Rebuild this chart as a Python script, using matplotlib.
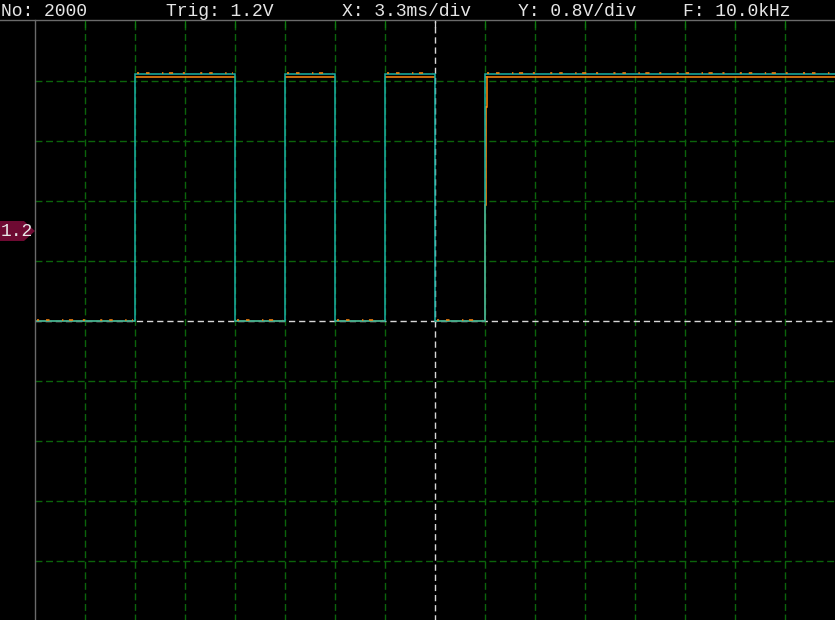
"""Scope capture: teal + orange square-wave traces on a dark grid, saved to out.png."""
import matplotlib
matplotlib.use("Agg")
import matplotlib.pyplot as plt
from matplotlib.patches import Polygon

plt.rcParams["lines.scale_dashes"] = False

# --- data ---------------------------------------------------------------
HEADER = ["No: 2000", "Trig: 1.2V", "X: 3.3ms/div", "Y: 0.8V/div", "F: 10.0kHz"]
HEADER_X = [1, 166, 342, 518, 683]          # pixel positions of header text
TRIG_LABEL = "1.2"
TRIG_V = 1.2
MS_PER_DIV = 3.3
V_PER_DIV = 0.8
N_XDIV = 16
N_YDIV = 10

# edge times in ms (relative to trigger), signal starts low
edge_times = [-19.8, -13.2, -9.9, -6.6, -3.3, 0.0, 3.3]
HIGH_V = 3.3
LOW_V = 0.0
ORANGE_HIGH_V = 3.26
# orange trace lags on the last rising edge
orange_lag_t = [3.30, 3.30, 3.36, 3.36, 3.42, 3.42]
orange_lag_v = [0.0, 1.55, 1.55, 2.85, 2.85, 3.26]

BG = "#000000"
GRID = "#0b640b"
CENTER = "#d8d8d8"
TEAL = "#19b2a5"
ORANGE = "#ff8a10"
TEXT = "#e6e6e6"
FRAME = "#6a6a6a"
MARKER = "#6e0a32"

# --- build traces from edges -------------------------------------------
xmin, xmax = -N_XDIV / 2 * MS_PER_DIV, N_XDIV / 2 * MS_PER_DIV
ymin, ymax = -N_YDIV / 2 * V_PER_DIV, N_YDIV / 2 * V_PER_DIV


def step_trace(high):
    t, v = [xmin], [LOW_V]
    level = LOW_V
    for e in edge_times:
        t.append(e); v.append(level)
        level = high if level == LOW_V else LOW_V
        t.append(e); v.append(level)
    t.append(xmax); v.append(level)
    return t, v


def segments():
    """(start, end, is_high) for each flat stretch."""
    bounds = [xmin] + edge_times + [xmax]
    return [(bounds[i], bounds[i + 1], i % 2 == 1) for i in range(len(bounds) - 1)]


teal_t, teal_v = step_trace(HIGH_V)

# --- figure ---------------------------------------------------------------
W, H = 835, 620
fig = plt.figure(figsize=(W / 100, H / 100), dpi=100)
fig.patch.set_facecolor(BG)

ax = fig.add_axes([35 / W, -1 / H, 800 / W, 600 / H])
ax.set_facecolor(BG)
ax.set_xlim(xmin, xmax)
ax.set_ylim(ymin, ymax)
for s in ax.spines.values():
    s.set_visible(False)
ax.set_xticks([]); ax.set_yticks([])

dash = (0, (5, 2.6))
for k in range(1, N_XDIV):
    x = xmin + k * MS_PER_DIV
    if k == N_XDIV // 2:
        ax.axvline(x, color=CENTER, lw=1.0, linestyle=(0, (4.5, 2.8)), zorder=2)
    else:
        ax.axvline(x, color=GRID, lw=1.0, linestyle=dash, zorder=1)
for k in range(1, N_YDIV):
    y = ymin + k * V_PER_DIV
    if k == N_YDIV // 2:
        ax.axhline(y, color=CENTER, lw=1.0, linestyle=(0, (4.5, 2.8)), zorder=2)
    else:
        ax.axhline(y, color=GRID, lw=1.0, linestyle=dash, zorder=1)

# orange trace: flat stretches sit just under the teal ones
for a, b, high in segments():
    y = ORANGE_HIGH_V if high else LOW_V
    ax.plot([a, b], [y, y], color=ORANGE, lw=1.1, zorder=3, solid_capstyle="butt")
ax.plot(orange_lag_t, orange_lag_v, color=ORANGE, lw=1.1, zorder=3,
        solid_joinstyle="miter")
ax.plot(teal_t, teal_v, color=TEAL, lw=1.1, zorder=4, solid_joinstyle="miter")
# orange noise blips riding on the flat parts
for a, b, high in segments():
    y = HIGH_V + 0.005 if high else LOW_V + 0.02
    ax.plot([a + 0.1, b - 0.1], [y, y], color=ORANGE, lw=1.1, zorder=5,
            linestyle=(0, (1.5, 5, 2.5, 9, 1, 4, 3, 7, 1.5, 11)))

# --- overlay in pixel coords: header, frame, trigger marker -------------
ov = fig.add_axes([0, 0, 1, 1])
ov.set_xlim(0, W); ov.set_ylim(H, 0)
ov.axis("off")
ov.patch.set_alpha(0)
ov.plot([0, W], [20, 20], color=FRAME, lw=1.0)
ov.plot([35, 35], [20, H], color=FRAME, lw=1.0)
for k in range(1, N_XDIV):
    x = 35 + k * 50
    ov.plot([x, x], [21, 27], color=CENTER if k == N_XDIV // 2 else "#0e7a0e", lw=0.9)

for txt, x in zip(HEADER, HEADER_X):
    ov.text(x, 15.5, txt, color=TEXT, fontsize=13, family="Liberation Mono",
            va="baseline", ha="left")

ty = 321 - TRIG_V / V_PER_DIV * 60
ov.add_patch(Polygon([[0, ty - 10], [24, ty - 10], [35, ty], [24, ty + 10], [0, ty + 10]],
                     closed=True, facecolor=MARKER, edgecolor="none"))
ov.text(1, ty + 5.5, TRIG_LABEL, color=TEXT, fontsize=13, family="Liberation Mono",
        va="baseline", ha="left")

fig.savefig("out.png", dpi=100, facecolor=BG)
